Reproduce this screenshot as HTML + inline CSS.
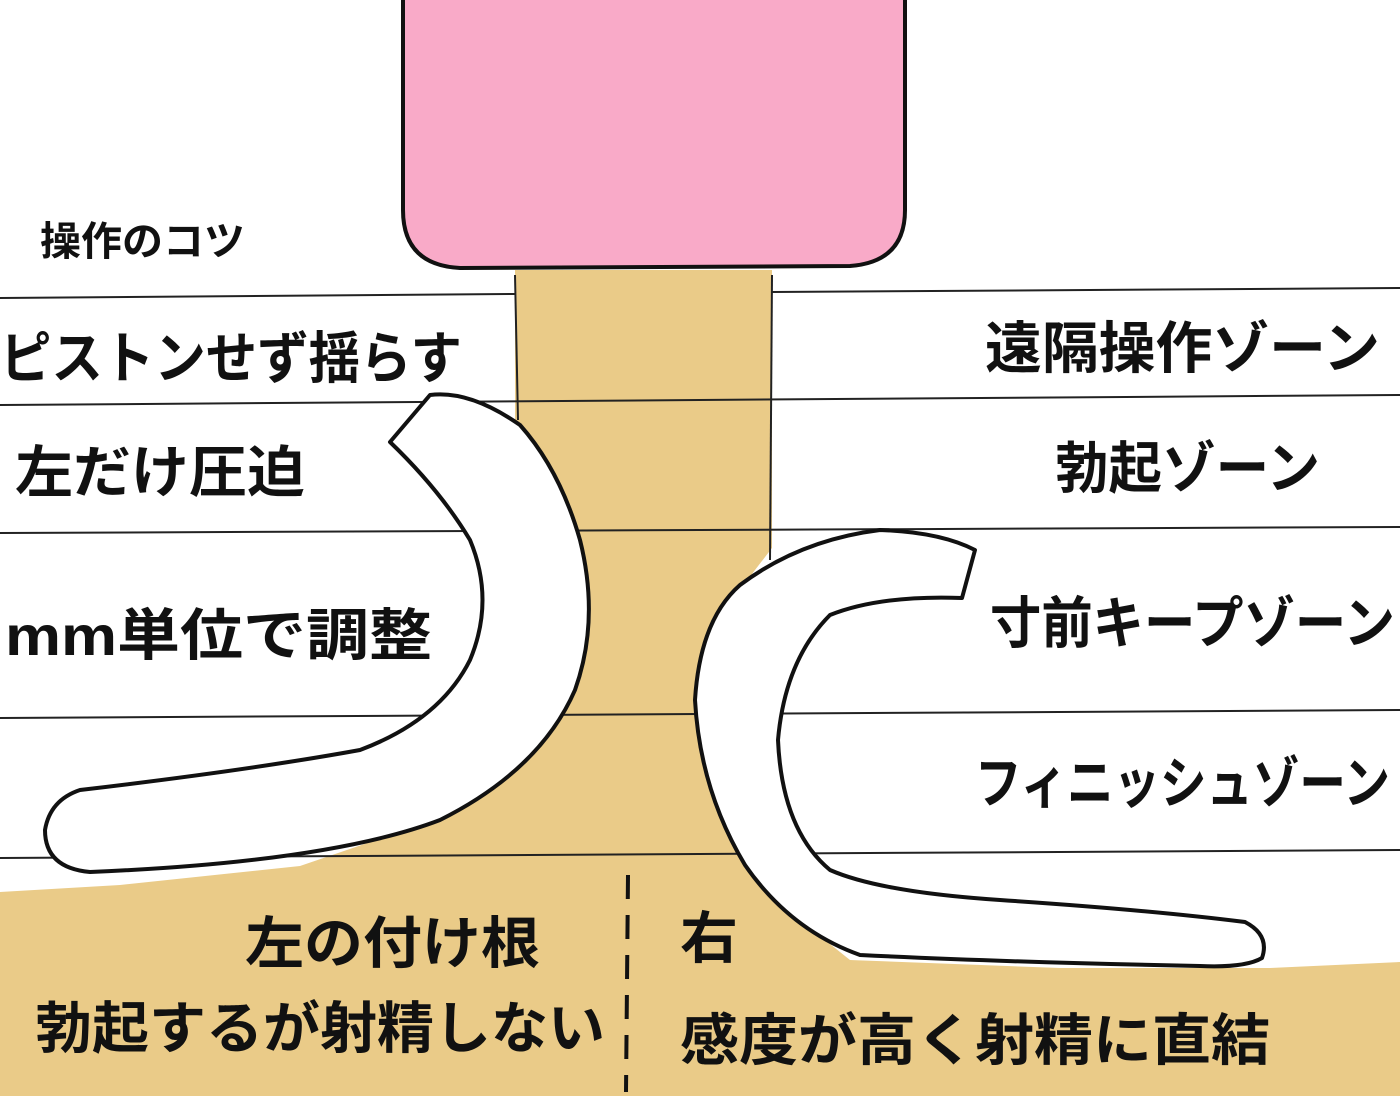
<!DOCTYPE html>
<html><head><meta charset="utf-8"><style>
html,body{margin:0;padding:0;background:#fff;}
svg{display:block;}
text{font-family:"Liberation Sans","Noto Sans CJK JP",sans-serif;font-weight:bold;fill:#111;}
</style></head><body>
<svg width="1400" height="1096" viewBox="0 0 1400 1096" xmlns="http://www.w3.org/2000/svg">
<rect width="1400" height="1096" fill="#fff"/>
<!-- tan body -->
<path d="M515,270 L772,270 L772,548 L755,570 L725,610 L712,680 L715,780 L745,860 L800,920 L850,960 L1060,968 L1270,968 L1400,962 L1400,1096 L0,1096 L0,892 L120,885 L300,866 L420,825 L500,770 L540,700 L548,610 L530,520 L500,440 L515,420 Z" fill="#eacb88"/>
<!-- horizontal lines -->
<g stroke="#222" stroke-width="2" fill="none">
<line x1="0" y1="298" x2="515" y2="294"/>
<line x1="772" y1="292" x2="1400" y2="288"/>
<line x1="0" y1="405" x2="1400" y2="395"/>
<line x1="0" y1="533" x2="1400" y2="527"/>
<line x1="0" y1="718" x2="1400" y2="710"/>
<line x1="0" y1="858" x2="1400" y2="850"/>
<line x1="515" y1="275" x2="518" y2="420"/>
<line x1="772" y1="275" x2="770" y2="560"/>
</g>
<!-- pink rect -->
<path d="M403,0 L403,210 Q403,265 460,268 L850,266 Q905,262 905,210 L905,0" fill="#f9aac8" stroke="#111" stroke-width="4"/>
<!-- left crescent -->
<path d="M390,442 L430,395 Q470,390 520,425 Q560,470 580,540 Q600,620 575,690 Q540,770 440,820 Q330,862 90,872 Q45,868 45,830 Q50,800 80,790 Q250,770 360,750 Q440,720 470,660 Q495,600 470,540 Q440,490 390,442 Z" fill="#fff" stroke="#111" stroke-width="4" stroke-linejoin="round"/>
<!-- right hook -->
<path d="M975,550 L962,598 Q880,595 830,615 Q785,660 778,740 Q782,830 830,870 Q880,892 1000,900 Q1150,910 1245,922 Q1270,935 1262,958 Q1245,968 1200,966 Q1000,962 860,955 Q790,930 745,865 Q700,790 695,700 Q700,620 740,585 Q800,540 880,530 Q940,532 975,550 Z" fill="#fff" stroke="#111" stroke-width="4" stroke-linejoin="round"/>
<!-- dashed line -->
<line x1="628" y1="875" x2="626" y2="1092" stroke="#111" stroke-width="4" stroke-dasharray="24,16"/>
<!-- texts -->
<text x="40" y="255" font-size="40" textLength="205" lengthAdjust="spacingAndGlyphs">操作のコツ</text>
<text x="0" y="378" font-size="56" textLength="462" lengthAdjust="spacingAndGlyphs">ピストンせず揺らす</text>
<text x="15" y="492" font-size="56" textLength="290" lengthAdjust="spacingAndGlyphs">左だけ圧迫</text>
<text x="5" y="655" font-size="56" textLength="427" lengthAdjust="spacingAndGlyphs">mm単位で調整</text>
<text x="985" y="368" font-size="56" textLength="395" lengthAdjust="spacingAndGlyphs">遠隔操作ゾーン</text>
<text x="1055" y="488" font-size="56" textLength="265" lengthAdjust="spacingAndGlyphs">勃起ゾーン</text>
<text x="990" y="643" font-size="56" textLength="405" lengthAdjust="spacingAndGlyphs">寸前キープゾーン</text>
<text x="975" y="803" font-size="56" textLength="415" lengthAdjust="spacingAndGlyphs">フィニッシュゾーン</text>
<text x="245" y="963" font-size="56" textLength="295" lengthAdjust="spacingAndGlyphs">左の付け根</text>
<text x="35" y="1048" font-size="56" textLength="570" lengthAdjust="spacingAndGlyphs">勃起するが射精しない</text>
<text x="680" y="958" font-size="56" textLength="58" lengthAdjust="spacingAndGlyphs">右</text>
<text x="680" y="1060" font-size="56" textLength="590" lengthAdjust="spacingAndGlyphs">感度が高く射精に直結</text>
</svg>
</body></html>
